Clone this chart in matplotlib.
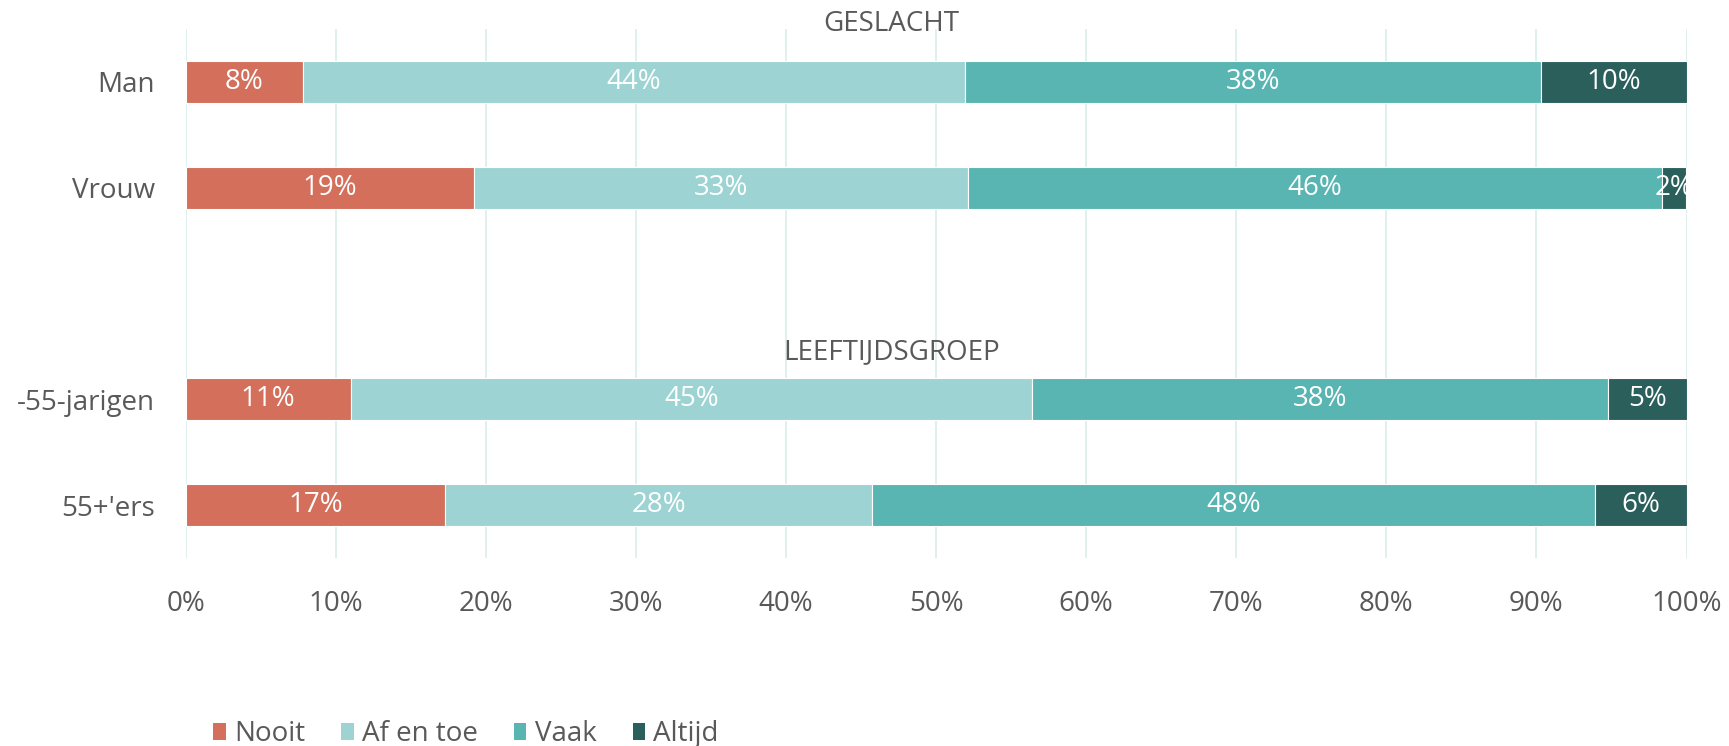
import matplotlib
matplotlib.use("Agg")
import matplotlib.pyplot as plt
from matplotlib.patches import Patch

plt.rcParams['font.family'] = ['Open Sans', 'DejaVu Sans']

categories = ["Man", "Vrouw", "", "-55-jarigen", "55+'ers"]
series_names = ["Nooit", "Af en toe", "Vaak", "Altijd"]
nooit = [7.8, 19.2, None, 11.0, 17.3]
af_en_toe = [44.1, 32.9, None, 45.4, 28.4]
vaak = [38.4, 46.3, None, 38.4, 48.2]
altijd = [9.7, 1.6, None, 5.2, 6.1]
group_titles = ["GESLACHT", "LEEFTIJDSGROEP"]
xticks = [0, 10, 20, 30, 40, 50, 60, 70, 80, 90, 100]

colors = ["#D36F5B", "#9DD4D3", "#58B5B2", "#2A5F5C"]
text_color = "#595959"
grid_color = "#DDEFEE"
FS = 20

fig = plt.figure(figsize=(17.29, 7.46), dpi=100)
ax = fig.add_axes([185.7 / 1729, 1 - 558 / 746, (1686.5 - 185.7) / 1729, (558 - 29) / 746])

series = [nooit, af_en_toe, vaak, altijd]
ypos = list(range(len(categories)))
left = [0.0] * len(categories)
for vals, col in zip(series, colors):
    for i, v in enumerate(vals):
        if v is None:
            continue
        ax.barh(ypos[i], v, left=left[i], height=0.4, color=col,
                edgecolor="white", linewidth=0.8, zorder=3)
        ax.text(left[i] + v / 2, ypos[i], "{:.0f}%".format(v), ha="center", va="center",
                color="white", fontsize=FS, zorder=4, clip_on=True)
        left[i] += v

ax.set_xlim(0, 100)
ax.set_ylim(4.5, -0.5)
ax.set_xticks(xticks)
ax.set_xticklabels(["{}%".format(t) for t in xticks])
ax.set_yticks([0, 1, 3, 4])
ax.set_yticklabels([categories[i] for i in [0, 1, 3, 4]])
ax.tick_params(axis="both", length=0, labelsize=FS, colors=text_color)
ax.tick_params(axis="y", pad=22)
ax.tick_params(axis="x", pad=23)
for s in ax.spines.values():
    s.set_visible(False)
ax.grid(axis="x", color=grid_color, linewidth=1.3, zorder=0)
ax.set_axisbelow(True)

ax.text(47.0, -0.55, group_titles[0], ha="center", va="center", fontsize=FS,
        color=text_color, clip_on=False)
ax.text(47.0, 2.55, group_titles[1], ha="center", va="center", fontsize=FS,
        color=text_color, clip_on=False)

handles = [Patch(facecolor=c, edgecolor="none") for c in colors]
leg = fig.legend(handles, series_names, loc="lower left",
                 bbox_to_anchor=(188 / 1729, -27 / 746), ncol=4, frameon=False,
                 fontsize=FS, handlelength=0.45, handleheight=0.55,
                 handletextpad=0.3, columnspacing=1.3, labelcolor=text_color)

fig.savefig("out.png", dpi=100)
